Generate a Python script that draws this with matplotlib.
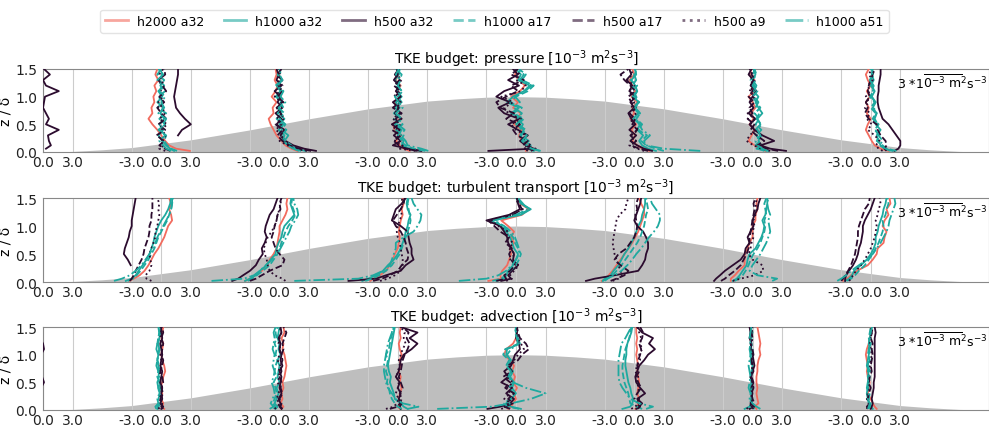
import numpy as np
import matplotlib.pyplot as plt
from matplotlib.lines import Line2D

# heights z/delta at which every profile is sampled
z = [0.02, 0.06, 0.12, 0.2, 0.3, 0.4, 0.5, 0.6, 0.7, 0.8, 0.9, 1.0, 1.1, 1.2, 1.3, 1.4, 1.5]
stations = [-4, -3, -2, -1, 0, 1, 2, 3]

# hill shape
hill_x = [-4, -3.75, -3.5, -3.25, -3, -2.75, -2.5, -2.25, -2, -1.75, -1.5, -1.25, -1, -0.75, -0.5, -0.25,
          0, 0.25, 0.5, 0.75, 1, 1.25, 1.5, 1.75, 2, 2.25, 2.5, 2.75, 3, 3.25, 3.5, 3.75, 4]
hill_z = [0.0, 0.01, 0.04, 0.08, 0.15, 0.22, 0.31, 0.4, 0.5, 0.6, 0.69, 0.78, 0.85, 0.92, 0.96, 0.99,
          1.0, 0.99, 0.96, 0.92, 0.85, 0.78, 0.69, 0.6, 0.5, 0.4, 0.31, 0.22, 0.15, 0.08, 0.04, 0.01, 0.0]

labels = ["h2000 a32", "h1000 a32", "h500 a32", "h1000 a17", "h500 a17", "h500 a9", "h1000 a51"]
colors = ["#F26B5E", "#1FA99F", "#2B0B2E", "#1FA99F", "#2B0B2E", "#2B0B2E", "#1FA99F"]
styles = ["-", "-", "-", "--", "--", ":", "-."]

titles = ["TKE budget: pressure [10$^{-3}$ m$^2$s$^{-3}$]",
          "TKE budget: turbulent transport [10$^{-3}$ m$^2$s$^{-3}$]",
          "TKE budget: advection [10$^{-3}$ m$^2$s$^{-3}$]"]

n = None
# ---- pressure ----
pres_h2000_a32 = [None,
    [2.9, 1.5, 0.8, 0.4, 0.0, -0.4, -0.9, -1.3, -0.9, -1.0, -0.7, -0.8, -0.5, -0.7, -0.3, -0.6, -0.4],
    [1.8, 1.2, 0.6, 0.2, -0.3, -0.6, -0.9, -1.1, -0.6, -0.7, -0.3, -0.8, -0.4, -0.2, -0.5, -0.3, -0.4],
    [1.2, 0.6, 0.2, -0.2, 0.3, -0.3, -0.5, 0.2, -0.2, 0.1, -0.3, 0.2, -0.1, 0.3, -0.2, 0.1, 0.0],
    [1.0, 1.4, 1.2, 0.6, 0.3, 0.6, -0.2, 0.1, 0.5, -0.3, 0.2, -0.5, 0.4, 0.9, 0.3, -0.1, 0.1],
    [1.5, 0.8, 0.3, -0.2, 0.1, -0.3, 0.2, -0.4, 0.0, -0.2, 0.3, -0.3, 0.1, -0.2, -0.5, 0.0, -0.2],
    [1.3, 0.9, 0.2, -0.4, -0.1, 0.2, -0.3, 0.1, -0.2, 0.3, 0.0, -0.4, 0.2, -0.1, 0.2, -0.3, -0.1],
    [1.8, 1.0, 0.4, 0.1, -0.2, -0.5, -0.3, 0.0, -0.4, -0.2, -0.5, -0.1, -0.4, 0.0, -0.3, -0.5, -0.2]]
pres_h1000_a32 = [None,
    [1.3, 0.9, 0.5, 0.1, -0.3, 0.2, -0.2, 0.3, -0.1, 0.2, -0.4, 0.1, -0.3, 0.3, -0.2, 0.1, -0.1],
    [2.6, 1.8, 0.9, 0.3, 0.5, -0.1, 0.4, -0.3, 0.2, -0.2, 0.3, -0.4, 0.1, -0.3, 0.2, -0.1, 0.1],
    [2.3, 1.2, 0.4, 0.6, 0.0, 0.4, -0.3, 0.3, -0.4, 0.2, -0.2, 0.4, -0.1, 0.2, -0.3, 0.1, 0.2],
    [1.8, 1.2, 1.5, 0.9, 0.4, 0.8, 0.0, 0.6, -0.5, 0.3, -0.9, -0.3, 0.8, 1.4, 0.2, 0.5, 0.0],
    [2.2, 1.4, 0.8, 0.5, 0.9, 0.3, 0.6, -0.1, 0.4, 0.0, 0.5, -0.2, 0.3, 0.1, -0.3, 0.2, 0.1],
    [1.6, 0.4, 0.9, 0.6, 0.9, 0.3, 0.8, 0.5, 1.0, 0.6, 0.3, 0.6, 0.1, 0.4, 0.0, 0.3, 0.1],
    [2.2, 1.4, 1.0, 0.8, 0.6, 1.0, 0.5, 0.3, 0.6, 0.2, 0.5, 0.1, 0.4, 0.0, 0.3, 0.1, 0.2]]
pres_h500_a32 = [
    [n, 0.3, 0.8, 0.6, 0.5, 1.6, 0.3, 0.6, 0.3, 0.0, 0.1, 0.2, 1.6, 0.3, 0.0, 0.7, 0.1],
    [n, n, n, n, 1.7, 2.1, 3.0, 2.4, 1.9, 1.5, 1.4, 1.3, 1.4, 1.5, 1.6, 1.7, 1.7],
    [3.7, 2.5, 1.4, 0.6, 0.1, 0.5, -0.3, 0.2, -0.4, 0.3, -0.2, 0.1, -0.5, 0.2, -0.3, -0.1, -0.3],
    [2.4, 1.0, -0.5, 0.3, -0.4, 0.2, -0.6, 0.4, -0.3, 0.1, -0.5, 0.3, -0.2, 0.2, -0.4, 0.0, -0.1],
    [-2.8, 1.8, 1.0, 0.4, 1.2, 0.2, -0.8, 0.3, -1.2, -1.8, -0.6, -2.0, -1.2, 0.3, -0.8, 0.2, -0.3],
    [1.8, 1.0, 0.3, -0.4, 0.2, -0.5, 0.1, -0.3, -0.6, 0.0, -0.4, 0.2, -0.5, -0.2, -0.8, -0.3, -0.5],
    [3.4, 1.8, 0.8, 2.2, 1.0, 0.2, -0.3, 0.3, -0.4, 0.1, -0.3, 0.0, 0.4, -0.2, 0.1, -0.4, -0.1],
    [2.4, 2.8, 3.0, 3.0, 2.6, 2.2, 1.8, 1.2, 1.0, 0.8, 0.7, 0.7, 0.8, 0.8, 0.9, 1.0, 1.0]]
pres_h1000_a17 = [None,
    [1.6, 1.0, 0.6, 0.3, 0.5, -0.3, 0.4, -0.2, 0.5, -0.4, 0.2, -0.3, 0.4, -0.1, 0.3, -0.4, 0.0],
    [2.2, 1.4, 1.2, 0.6, 0.2, 0.7, 0.0, 0.5, -0.2, 0.4, 0.1, -0.2, 0.3, -0.4, 0.2, -0.2, 0.0],
    [2.8, 1.6, 0.8, 0.2, 0.6, -0.2, 0.5, -0.4, 0.3, -0.3, 0.4, 0.0, 0.5, -0.3, 0.2, 0.4, -0.2],
    [2.4, 1.6, 1.0, 1.3, 0.5, 1.0, 0.2, 0.8, -0.3, 0.6, -0.6, 0.0, 1.2, 1.8, 0.6, 1.0, 0.3],
    [3.0, 2.2, 1.2, 0.7, 1.3, 0.4, 0.8, 0.2, 0.6, -0.1, 0.4, 0.2, -0.2, 0.3, -0.4, 0.1, 0.2],
    [1.2, 0.6, 0.3, 0.8, 0.4, 0.9, 0.3, 0.7, 0.2, 0.8, 0.4, 0.0, 0.5, 0.2, -0.2, 0.4, 0.2],
    [2.6, 1.6, 1.2, 0.6, 0.9, 0.4, 0.8, 0.2, 0.5, 0.0, 0.4, -0.1, 0.3, 0.2, 0.0, 0.3, 0.1]]
pres_h500_a17 = [None,
    [0.9, 0.4, -0.2, 0.3, -0.5, 0.4, -0.3, 0.5, 0.0, -0.4, 0.3, -0.2, 0.5, 0.1, -0.3, 0.4, 0.3],
    [3.2, 2.0, 1.0, 0.3, -0.2, 0.3, -0.4, 0.5, 0.1, -0.3, 0.4, -0.2, 0.3, -0.1, 0.3, -0.2, 0.2],
    [2.0, 0.8, 0.1, -0.4, 0.3, -0.6, 0.1, -0.2, 0.4, -0.5, 0.2, -0.3, 0.3, -0.4, 0.2, -0.3, 0.1],
    [1.5, 2.0, 0.7, 1.2, 0.1, -0.3, 0.4, -1.0, -0.2, -1.6, -2.0, -1.0, 0.2, -0.5, 0.8, -0.5, 0.2],
    [1.4, 0.5, -0.3, 0.2, -0.4, 0.3, -0.2, 0.1, -0.5, 0.2, -0.3, -0.6, 0.1, -0.4, -1.0, -1.4, -0.6],
    [2.6, 1.4, 0.5, 1.2, 0.4, -0.2, 0.2, -0.5, 0.0, -0.3, 0.2, -0.4, 0.0, -0.2, 0.3, -0.1, 0.0],
    [1.6, 1.4, 1.6, 1.5, 1.0, 0.7, 0.6, -0.2, -0.6, -0.3, -0.5, -0.1, -0.3, -0.2, 0.0, 0.2, 0.4]]
pres_h500_a9 = [None,
    [0.4, -0.2, 0.3, -0.1, 0.5, 0.0, 0.6, -0.2, 0.4, 0.1, -0.3, 0.2, -0.1, 0.3, 0.0, -0.2, 0.2],
    [2.8, 1.5, 0.8, 0.0, 0.4, -0.4, 0.2, -0.3, 0.3, -0.1, 0.2, -0.5, 0.0, 0.3, -0.2, 0.1, -0.1],
    [1.8, 0.2, 0.5, -0.3, 0.1, -0.2, 0.3, -0.5, 0.2, -0.1, 0.3, -0.4, 0.1, -0.2, 0.4, -0.1, 0.1],
    [1.2, 0.8, 1.6, 0.5, 1.0, 0.0, -0.5, 0.5, -0.8, -1.2, -0.3, -1.5, 0.5, 1.0, 0.0, 0.4, -0.2],
    [1.0, 0.3, -0.5, 0.0, -0.3, 0.4, -0.1, -0.4, 0.2, -0.3, 0.0, -0.2, -0.5, 0.0, -0.7, -0.2, -0.3],
    [1.8, 0.9, 0.1, -0.6, -0.3, 0.3, -0.2, 0.2, -0.5, 0.0, -0.2, 0.2, -0.3, 0.1, -0.2, 0.0, -0.3],
    [1.2, 0.8, 0.5, 0.9, 0.4, -0.3, 0.1, -0.4, -0.1, -0.6, -0.2, -0.5, -0.1, -0.3, 0.2, -0.2, 0.1]]
pres_h1000_a51 = [None,
    [1.0, 0.5, 0.2, -0.2, 0.4, -0.1, 0.2, 0.5, -0.3, 0.3, 0.0, 0.4, -0.2, 0.1, -0.4, 0.2, -0.3],
    [2.0, 1.4, 0.8, 0.5, 0.9, 0.2, 0.6, 0.0, 0.5, -0.1, 0.6, 0.1, 0.4, -0.2, 0.3, 0.0, 0.2],
    [3.1, 2.4, 1.0, 0.8, 0.3, 0.7, 0.0, 0.4, -0.2, 0.5, 0.1, -0.3, 0.4, 0.0, 0.3, -0.2, 0.1],
    [2.5, 1.6, 1.1, 0.6, 1.1, 0.4, 0.7, 0.1, 0.6, -0.2, 0.4, -0.1, 0.9, 1.6, 0.4, 0.8, 0.1],
    [6.7, 3.0, 1.2, 1.0, 1.6, 0.8, 0.5, 0.2, 0.6, 0.1, 0.5, 0.0, 0.3, -0.2, 0.2, 0.0, 0.1],
    [1.5, 1.0, 0.5, 0.3, 0.8, 0.5, 0.9, 0.4, 0.7, 0.3, 0.6, 0.2, 0.4, 0.0, 0.3, 0.1, 0.2],
    [2.0, 1.5, 0.9, 1.2, 0.8, 0.5, 0.7, 0.4, 0.6, 0.3, 0.4, 0.1, 0.2, 0.3, -0.1, 0.2, 0.0]]

# ---- turbulent transport ----
turb_h2000_a32 = [None,
    [-3.2, -2.8, -2.2, -1.7, -1.3, -1.0, -0.7, -0.3, 0.0, 0.3, 0.5, 0.7, 1.1, 1.0, 0.8, 1.0, 0.8],
    [-3.5, -3.0, -2.5, -1.8, -1.3, -1.0, -0.6, -0.3, -0.2, -0.1, 0.0, 0.0, 0.3, 0.6, 0.8, 0.7, 0.8],
    [-2.8, -2.5, -1.8, -1.2, -0.8, -0.5, -0.3, 0.0, 0.1, 0.2, 0.1, 0.2, 0.3, 0.5, 0.4, 0.6, 0.5],
    [-2.8, -1.5, -1.6, -1.4, -0.9, -0.7, -0.5, -0.6, -0.2, -0.5, -0.2, -0.8, -1.5, 0.6, 1.3, 0.4, 0.1],
    [-3.3, -2.9, -2.6, -2.2, -1.8, -1.4, -1.0, -0.6, -0.2, 0.1, 0.4, 0.6, 0.8, 1.0, 1.0, 0.7, 0.5],
    [-2.2, -2.2, -1.8, -1.4, -0.8, -0.8, -0.8, -0.5, -0.3, 0.0, 0.0, 0.0, 0.3, 0.3, 0.5, 0.4, 0.5],
    [-2.8, -2.4, -2.0, -1.4, -0.3, 0.2, 0.6, 0.7, 1.3, 1.4, 1.6, 1.2, 1.4, 1.8, 1.6, 2.0, 1.9]]
turb_h1000_a32 = [None,
    [-3.6, -3.0, -2.6, -2.3, -1.9, -1.5, -1.2, -1.0, -0.8, -0.7, -0.5, -0.3, 0.0, 0.4, 0.7, 0.9, 1.0],
    [-3.5, -3.0, -2.4, -2.0, -1.3, -0.9, -0.4, -0.3, -0.1, 0.2, 0.3, 0.5, 1.0, 1.5, 1.3, 1.1, 1.2],
    [-3.6, -3.0, -2.2, -1.5, -1.0, -0.4, 0.0, 0.3, 0.5, 0.7, 0.8, 1.0, 1.1, 1.3, 1.0, 0.9, 1.0],
    [-2.0, -1.2, -1.0, -0.8, -0.3, 0.0, 0.2, -0.2, -0.4, -0.6, -1.0, -1.5, -2.6, 0.5, 1.5, 0.5, 0.0],
    [-3.2, -3.0, -2.4, -2.1, -1.6, -1.3, -1.0, -0.6, -0.3, 0.0, 0.2, 0.4, 0.7, 0.8, 1.0, 1.1, 1.1],
    [-2.0, -1.6, -1.3, -1.0, -0.6, -0.5, -0.3, 0.3, 0.6, 0.9, 1.1, 1.2, 1.0, 1.3, 1.4, 1.5, 1.5],
    [-2.6, -2.2, -1.9, -1.7, -1.0, -0.4, 0.0, 0.3, 0.5, 0.5, 0.7, 0.8, 1.0, 1.2, 1.3, 1.5, 1.6]]
turb_h500_a32 = [None,
    [n, n, n, n, -3.1, -3.4, -3.8, -3.7, -3.5, -3.3, -3.2, -3.0, -3.0, -2.9, -2.8, -2.7, -2.6],
    [-4.8, -4.2, -3.7, -3.0, -2.4, -2.1, -1.7, -1.8, -1.5, -1.3, -1.5, -1.4, -1.2, -1.0, -0.6, -0.4, -0.2],
    [-5.0, -2.2, -1.2, 0.3, 0.8, 1.6, 1.4, 1.4, 1.2, 1.1, 1.0, 0.3, -0.6, -0.4, -0.2, 0.4, 0.8],
    [-1.5, -0.5, -0.8, -0.4, 0.2, -0.3, -0.2, -0.5, -0.8, -0.9, -1.2, -1.6, -3.0, -0.7, 0.4, 0.2, 0.1],
    [-4.9, -4.0, -2.0, 0.4, 0.8, 1.1, 1.2, 1.4, 1.4, 1.2, 0.9, 0.3, 0.0, 0.2, 0.4, 0.6, 0.7],
    [-3.9, -3.7, -3.3, -2.8, -2.0, -1.2, -0.8, -0.7, -0.3, -0.5, -0.2, 0.1, 0.0, 0.2, 0.5, 0.6, 0.8],
    [-2.6, -2.6, -2.5, -2.2, -1.8, -1.5, -1.3, -1.2, -1.0, -0.9, -0.8, -0.8, -0.6, -0.3, 0.0, 0.2, 0.4]]
turb_h1000_a17 = [None,
    [-3.4, -2.9, -2.5, -2.1, -1.7, -1.3, -1.0, -0.7, -0.5, -0.3, 0.0, 0.3, 0.6, 0.8, 1.0, 1.1, 1.2],
    [-3.2, -2.8, -2.3, -1.7, -1.0, -0.6, -0.2, 0.0, 0.2, 0.4, 0.6, 0.9, 1.3, 1.6, 1.4, 1.2, 1.3],
    [-3.3, -2.6, -1.9, -1.2, -0.6, -0.2, 0.2, 0.4, 0.6, 0.8, 1.0, 1.2, 1.3, 1.2, 1.1, 1.0, 1.1],
    [-2.4, -1.5, -1.1, -0.6, 0.0, 0.3, 0.5, 0.2, -0.1, -0.3, -0.8, -1.4, -2.3, 0.3, 1.4, 0.6, 0.1],
    [-3.0, -2.7, -2.2, -1.8, -1.3, -0.9, -0.5, -0.1, 0.3, 0.6, 0.8, 1.0, 1.1, 1.2, 1.4, 1.3, 1.2],
    [-1.8, -1.4, -1.0, -0.7, -0.4, -0.2, 0.1, 0.5, 0.8, 1.0, 1.2, 1.3, 1.2, 1.4, 1.3, 1.2, 1.4],
    [-2.4, -2.0, -1.6, -1.2, -0.6, -0.2, 0.2, 0.5, 0.8, 1.0, 1.2, 1.3, 1.2, 1.5, 1.6, 1.8, 1.7]]
turb_h500_a17 = [None,
    [-3.2, -3.0, -2.8, -2.6, -2.3, -2.0, -1.8, -1.7, -1.5, -1.3, -1.2, -1.2, -1.0, -1.0, -0.9, -0.9, -0.9],
    [-3.0, -2.4, -1.8, -1.0, 0.3, 0.5, 0.0, -0.4, -0.6, -0.8, -0.6, -0.5, -0.3, -0.2, 0.1, 0.0, 0.2],
    [-2.5, -1.6, -0.8, 0.0, 0.4, 1.0, 1.1, 0.9, 0.8, 0.6, 0.3, -0.2, -0.5, -0.1, 0.3, 0.6, 0.7],
    [-2.0, -1.0, -1.2, -0.6, -0.1, -0.5, -0.7, -0.4, -1.1, -0.7, -1.6, -2.2, -2.8, -0.3, 0.6, 0.3, 0.1],
    [-2.4, -1.8, -1.0, -0.6, -1.4, -2.0, -1.6, -0.8, -0.4, 0.0, 0.2, 0.3, 0.2, 0.1, 0.3, 0.2, 0.4],
    [-3.2, -2.8, -2.4, -1.8, -1.2, -0.9, -0.6, -0.4, -0.3, -0.3, -0.2, -0.1, 0.0, 0.1, 0.2, 0.1, 0.3],
    [-3.0, -2.8, -2.6, -2.3, -2.0, -1.8, -1.6, -1.5, -1.4, -1.3, -1.3, -1.2, -1.0, -0.8, -0.6, -0.2, -0.1]]
turb_h500_a9 = [None,
    [-1.0, -1.5, -1.6, -1.2, -1.0, -1.1, -1.2, -1.0, -0.8, -0.6, -0.6, -0.4, -0.3, -0.2, -0.3, -0.2, -0.4],
    [0.6, 0.3, -0.5, -1.0, -1.2, -1.3, -1.5, -1.6, -1.4, -1.2, -0.8, -0.5, -0.3, -0.2, 0.0, 0.1, 0.2],
    [-1.8, -1.0, -0.3, 0.3, 0.5, 0.5, 0.4, 0.3, 0.2, 0.0, -0.1, 0.0, 0.2, 0.4, 0.3, 0.5, 0.4],
    [-1.0, -0.4, -0.6, -0.2, 0.3, -0.6, -0.1, -0.7, -0.3, -1.0, -0.8, -1.8, -2.5, -0.4, 0.7, 0.2, 0.0],
    [-2.2, -1.6, -1.2, -1.4, -1.6, -1.8, -2.0, -2.1, -2.2, -2.1, -2.0, -1.9, -1.8, -1.5, -0.9, -0.8, -0.6],
    [-2.0, -1.2, 0.2, 1.1, 1.0, 0.0, -0.4, -0.2, -0.1, 0.1, 0.0, 0.2, 0.1, 0.3, 0.4, 0.3, 0.5],
    [-2.2, -2.0, -1.8, -1.5, -1.0, -0.6, -0.3, 0.0, 0.2, 0.4, 0.5, 0.6, 0.5, 0.7, 0.8, 1.0, 0.9]]
turb_h1000_a51 = [None,
    [-4.8, -4.0, -3.2, -2.6, -2.0, -1.6, -1.2, -0.9, -0.6, -0.4, -0.1, 0.2, 0.5, 0.8, 1.0, 1.1, 1.1],
    [-6.9, -3.6, -2.6, -2.0, -1.4, -0.8, -0.3, 0.1, 0.4, 0.7, 1.0, 1.2, 1.6, 1.9, 1.8, 1.5, 1.4],
    [-10.5, -4.0, -2.5, -1.5, -0.8, -0.6, -0.4, -0.2, -0.2, 0.6, 1.6, 2.0, 2.3, 2.4, 2.0, 1.6, 1.4],
    [-5.8, -3.0, -1.8, -1.0, -0.4, 0.0, 0.3, 0.3, 0.1, -0.1, -0.5, -1.2, -2.2, 0.0, 1.2, 0.7, 0.2],
    [-3.2, -2.8, -2.0, -1.3, -0.7, -0.2, 0.2, 0.7, 1.1, 1.5, 2.0, 2.4, 2.6, 2.6, 2.2, 1.8, 1.6],
    [2.0, 2.5, 0.5, -0.3, 0.0, 0.4, 0.8, 1.1, 1.4, 1.6, 1.8, 1.7, 1.6, 1.8, 1.6, 1.5, 1.6],
    [-3.4, -3.0, -2.5, -2.0, -1.2, -0.4, 0.2, 0.6, 1.0, 1.3, 1.6, 1.8, 1.9, 2.1, 2.3, 2.5, 2.4]]

# ---- advection ----
adv_h2000_a32 = [None,
    [0.3, 0.1, 0.2, 0.0, 0.1, -0.1, 0.1, 0.2, 0.4, 0.3, 0.1, 0.0, 0.1, 0.2, 0.0, 0.1, 0.2],
    [0.2, 0.4, 0.1, 0.3, 0.2, 0.4, 0.3, 0.5, 0.6, 0.7, 0.6, 0.5, 0.3, 0.4, 0.2, 0.5, 0.4],
    [0.2, 0.0, 0.3, 0.1, 0.2, 0.4, 0.2, 0.3, 0.1, 0.3, 0.2, 0.4, 0.2, 0.1, 0.3, 0.2, 0.3],
    [-0.8, -0.5, -0.3, 0.0, -0.2, 0.1, -0.3, -0.1, -0.4, -0.2, -0.6, -1.2, -1.0, -0.3, 0.0, 0.1, 0.0],
    [0.1, 0.3, 0.4, 0.5, 0.3, 0.4, 0.5, 0.4, 0.3, 0.4, 0.3, 0.2, 0.3, 0.2, 0.3, 0.2, 0.2],
    [0.4, 0.2, 0.6, 0.5, 0.4, 0.5, 0.4, 0.4, 0.5, 0.5, 0.6, 0.8, 0.7, 0.8, 0.7, 0.6, 0.5],
    [0.6, 0.4, 0.2, 0.0, -0.3, -0.2, -0.1, -0.3, -0.4, -0.3, -0.4, -0.5, -0.4, -0.2, -0.1, 0.0, 0.0]]
adv_h1000_a32 = [None,
    [-0.4, -0.3, -0.1, 0.0, -0.2, -0.1, -0.2, -0.3, -0.2, -0.3, -0.4, -0.3, -0.2, -0.3, -0.2, -0.1, -0.1],
    [-0.4, -0.2, -0.5, -0.3, -0.1, -0.3, 0.0, -0.2, -0.1, 0.0, -0.2, 0.1, -0.1, 0.0, -0.2, -0.1, 0.0],
    [1.0, 0.6, 0.3, -0.3, -0.4, -0.6, -0.8, -0.7, -0.9, -1.0, -0.9, -0.8, -0.7, -0.6, -0.5, -0.4, -0.3],
    [0.5, -0.5, -1.0, -0.5, 0.0, -0.4, -0.2, -0.6, -0.3, -0.8, -0.5, -1.0, -0.9, 0.4, 0.2, 0.0, 0.0],
    [-1.2, -0.4, -0.2, -0.1, -0.3, -0.4, -0.6, -0.7, -0.8, -0.9, -0.9, -0.8, -0.8, -0.7, -0.5, -0.3, -0.2],
    [-0.8, -0.3, -0.1, 0.0, -0.1, -0.2, -0.1, -0.2, -0.1, 0.0, -0.1, -0.2, -0.1, -0.2, -0.1, -0.2, -0.1],
    [0.2, 0.0, -0.2, -0.3, -0.4, -0.3, -0.2, -0.3, -0.2, -0.4, -0.3, -0.2, -0.1, -0.2, -0.1, 0.0, 0.1]]
adv_h500_a32 = [
    [n, n, n, n, n, -0.2, 0.1, -0.1, -0.3, -0.2, -0.4, -0.2, 0.1, 0.0, -0.3, -0.2, -0.1],
    [0.0, 0.2, -0.1, 0.1, 0.0, 0.1, -0.1, 0.0, 0.1, -0.1, 0.0, 0.1, 0.0, -0.1, 0.1, 0.0, 0.0],
    [0.2, 0.0, 0.1, -0.1, 0.2, 0.0, 0.1, 0.2, 0.0, 0.3, 0.1, 0.2, 0.0, 0.1, -0.1, 0.2, 0.1],
    [0.3, 0.2, 0.4, 0.1, 0.3, 0.0, 0.2, -0.2, 0.1, 0.2, 0.3, 0.6, 1.4, 2.0, 1.2, 2.0, 0.3],
    [-2.9, -1.6, -0.6, -0.2, -1.0, -0.4, -1.5, -0.8, -1.2, -0.5, -0.3, -0.1, 0.4, 0.3, 0.0, 0.1, 0.0],
    [0.2, 0.5, 0.8, 0.3, 1.1, 0.6, 0.2, 0.1, 0.3, 0.5, 1.0, 1.4, 2.1, 1.5, 1.9, 0.8, 0.3],
    [-0.3, 0.2, -0.2, -0.1, 0.0, -0.1, 0.1, -0.1, 0.0, 0.2, 0.1, 0.0, -0.2, -0.1, -0.3, -0.2, -0.3],
    [0.0, 0.1, 0.2, 0.1, 0.2, 0.3, 0.3, 0.4, 0.4, 0.4, 0.4, 0.4, 0.4, 0.4, 0.4, 0.5, 0.4]]
adv_h1000_a17 = [None,
    [-0.2, -0.4, -0.2, -0.3, -0.1, -0.3, -0.2, -0.4, -0.3, -0.2, -0.4, -0.3, -0.2, -0.4, -0.3, -0.2, -0.3],
    [-0.6, -0.4, -0.7, -0.5, -0.3, -0.4, -0.6, -0.3, -0.5, -0.4, -0.2, -0.4, -0.3, -0.5, -0.3, -0.4, -0.2],
    [0.4, 0.0, -0.3, -0.6, -0.8, -0.9, -1.1, -1.0, -1.2, -1.1, -1.0, -1.2, -0.9, -0.8, -0.7, -0.5, -0.4],
    [0.3, -0.8, -1.2, -0.6, -0.2, -0.7, -0.3, -0.8, -0.4, -1.0, -0.7, -1.3, -1.1, 0.3, 0.1, -0.1, 0.0],
    [0.8, 0.2, -0.4, -0.5, -0.6, -0.8, -1.0, -1.1, -1.2, -1.2, -1.1, -1.0, -0.9, -0.7, -0.5, -0.4, -0.3],
    [0.2, -0.2, -0.3, -0.1, -0.2, 0.0, -0.1, -0.2, 0.0, -0.1, -0.2, -0.1, 0.0, -0.1, -0.2, 0.0, -0.1],
    [-0.2, -0.1, 0.0, -0.2, -0.1, -0.3, -0.2, -0.1, -0.3, -0.2, -0.1, -0.3, -0.2, -0.1, -0.2, -0.1, 0.0]]
adv_h500_a17 = [None,
    [0.2, 0.0, 0.1, -0.1, 0.2, 0.0, 0.2, 0.1, -0.1, 0.1, 0.2, 0.0, 0.1, 0.2, 0.0, 0.2, 0.1],
    [0.3, 0.1, 0.2, 0.0, 0.3, 0.1, 0.2, 0.0, 0.2, 0.1, 0.3, 0.2, 0.4, 0.3, 0.5, 0.7, 0.4],
    [-0.8, 0.0, 0.2, 0.4, 0.2, 0.5, 0.3, 0.1, 0.3, 0.4, 0.5, 0.7, 1.0, 1.2, 0.9, 1.1, 0.5],
    [-0.6, -1.2, -0.3, -0.8, -0.2, -1.1, -0.6, -1.3, -0.4, -0.9, 0.2, 0.6, 1.3, 1.0, 0.4, 0.2, 0.1],
    [0.3, 0.6, 0.2, 0.5, 0.3, 0.7, 0.4, 0.2, 0.5, 0.3, 0.4, 0.6, 0.7, 0.5, 0.8, 0.9, 0.6],
    [0.1, -0.1, 0.2, 0.0, -0.1, 0.1, 0.0, -0.2, 0.1, 0.0, -0.1, 0.1, 0.0, -0.2, 0.0, -0.1, 0.0],
    [-0.3, -0.4, -0.1, -0.3, -0.2, 0.0, -0.2, -0.1, 0.1, 0.0, 0.1, 0.2, 0.1, 0.2, 0.0, 0.1, 0.2]]
adv_h500_a9 = [None,
    [-0.3, -0.1, 0.1, -0.2, 0.0, 0.1, -0.1, 0.0, -0.2, 0.1, 0.0, -0.1, 0.1, 0.0, -0.1, 0.0, -0.1],
    [-0.5, -0.2, 0.0, -0.3, -0.1, 0.1, -0.2, 0.0, -0.1, 0.1, -0.2, 0.0, 0.1, -0.1, 0.0, 0.2, 0.0],
    [-1.2, -0.4, -0.1, 0.1, -0.2, 0.0, 0.1, -0.1, 0.0, 0.2, 0.1, 0.3, 0.5, 0.8, 0.6, 0.7, 0.3],
    [-1.5, -0.8, -0.5, -1.2, -0.6, -0.9, -0.3, -1.0, -0.5, -0.7, -0.2, 0.2, 0.8, 0.5, 0.2, 0.1, 0.0],
    [-0.3, 0.1, 0.4, 0.0, 0.3, 0.5, 0.2, 0.4, 0.1, 0.3, 0.6, 0.5, 0.8, 0.6, 0.7, 0.5, 0.3],
    [-0.6, -0.3, -0.1, 0.0, -0.2, -0.1, 0.0, -0.2, -0.1, 0.0, -0.1, 0.0, -0.2, -0.1, 0.0, -0.1, 0.0],
    [-0.4, -0.3, -0.2, -0.4, -0.3, -0.2, -0.1, -0.2, 0.0, -0.1, 0.0, 0.1, 0.0, -0.1, 0.0, 0.1, 0.0]]
adv_h1000_a51 = [None,
    [-0.5, -0.6, -0.3, -0.4, -0.2, -0.3, -0.4, -0.2, -0.3, -0.5, -0.4, -0.3, -0.5, -0.4, -0.3, -0.2, -0.3],
    [-1.0, -0.6, -0.9, -0.7, -0.5, -0.6, -0.8, -0.6, -0.5, -0.7, -0.6, -0.5, -0.7, -0.6, -0.5, -0.6, -0.4],
    [1.0, 2.1, 0.5, -0.2, -0.6, -1.0, -1.2, -1.3, -1.4, -1.4, -1.3, -1.2, -1.1, -1.0, -0.8, -0.6, -0.5],
    [-8.0, -2.5, -0.5, 1.5, 3.0, 1.0, -0.3, -0.8, -0.5, -1.0, -0.6, -0.9, -0.5, 0.2, 0.1, 0.0, 0.0],
    [1.2, 1.9, 0.5, -0.4, -0.8, -1.2, -1.5, -1.6, -1.6, -1.6, -1.6, -1.5, -1.4, -1.3, -0.9, -0.6, -0.3],
    [0.8, 0.4, 0.0, -0.3, -0.2, -0.4, -0.3, -0.2, -0.3, -0.4, -0.3, -0.2, -0.3, -0.2, -0.3, -0.2, -0.1],
    [-0.3, -0.2, -0.1, -0.3, -0.2, -0.4, -0.3, -0.2, -0.1, -0.3, -0.2, -0.1, -0.2, 0.0, -0.1, 0.0, 0.1]]

panels = [
    [pres_h2000_a32, pres_h1000_a32, pres_h500_a32, pres_h1000_a17, pres_h500_a17, pres_h500_a9, pres_h1000_a51],
    [turb_h2000_a32, turb_h1000_a32, turb_h500_a32, turb_h1000_a17, turb_h500_a17, turb_h500_a9, turb_h1000_a51],
    [adv_h2000_a32, adv_h1000_a32, adv_h500_a32, adv_h1000_a17, adv_h500_a17, adv_h500_a9, adv_h1000_a51],
]

scale = 0.25 / 3.0  # 3.0 units of the budget term = a quarter of the station spacing

fig = plt.figure(figsize=(9.89, 4.27), dpi=100)
ax_boxes = [[0.0435, 0.6417, 0.9565, 0.1944],
            [0.0435, 0.3372, 0.9565, 0.1967],
            [0.0435, 0.0375, 0.9565, 0.1943]]

# tick positions: -3, 0, +3 around every station
tick_pos, tick_lab = [], []
for s in stations:
    for off, lab in [(-0.25, "-3.0"), (0.0, "0.0"), (0.25, "3.0")]:
        if s + off >= stations[0]:
            tick_pos.append(s + off)
            tick_lab.append(lab)

for p, series in enumerate(panels):
    ax = fig.add_axes(ax_boxes[p])
    ax.fill_between(hill_x, 0, hill_z, color="#BEBEBE", lw=0, zorder=1)
    for k, data in enumerate(series):
        for i, s in enumerate(stations):
            prof = data[i]
            if prof is None:
                continue
            v = np.array(prof, dtype=float)
            ax.plot(s + v * scale, z, color=colors[k], ls=styles[k], lw=1.3, zorder=3)
    ax.set_xlim(-4, 4)
    ax.set_ylim(0, 1.5)
    ax.set_yticks([0.0, 0.5, 1.0, 1.5])
    ax.set_yticklabels(["0.0", "0.5", "1.0", "1.5"])
    ax.set_xticks(tick_pos)
    ax.set_xticklabels(tick_lab)
    ax.tick_params(labelsize=10, length=0, colors="#222222")
    ax.tick_params(axis="x", pad=2)
    ax.tick_params(axis="y", pad=4)
    ax.grid(axis="x", color="#CCCCCC", lw=0.8)
    for side in ["top", "bottom", "left", "right"]:
        ax.spines[side].set_color("#888888")
    ax.set_ylabel("z / δ", fontsize=10, labelpad=2)
    ax.set_title(titles[p], fontsize=10, pad=3)
    ax.text(0.999, 0.96, r"3 *1$\overline{0^{-3}\ \mathrm{m}}^2\mathrm{s}^{-3}$",
            transform=ax.transAxes, ha="right", va="top", fontsize=9, zorder=5)

handles = [Line2D([0], [0], color=colors[k], ls=styles[k], lw=2, alpha=0.6) for k in range(7)]
fig.legend(handles, labels, loc="upper center", bbox_to_anchor=(0.5, 0.99), ncol=7, fontsize=9,
           frameon=True, handlelength=1.8, handletextpad=0.7, columnspacing=1.6,
           edgecolor="#DDDDDD")

fig.savefig("out.png", dpi=100)
